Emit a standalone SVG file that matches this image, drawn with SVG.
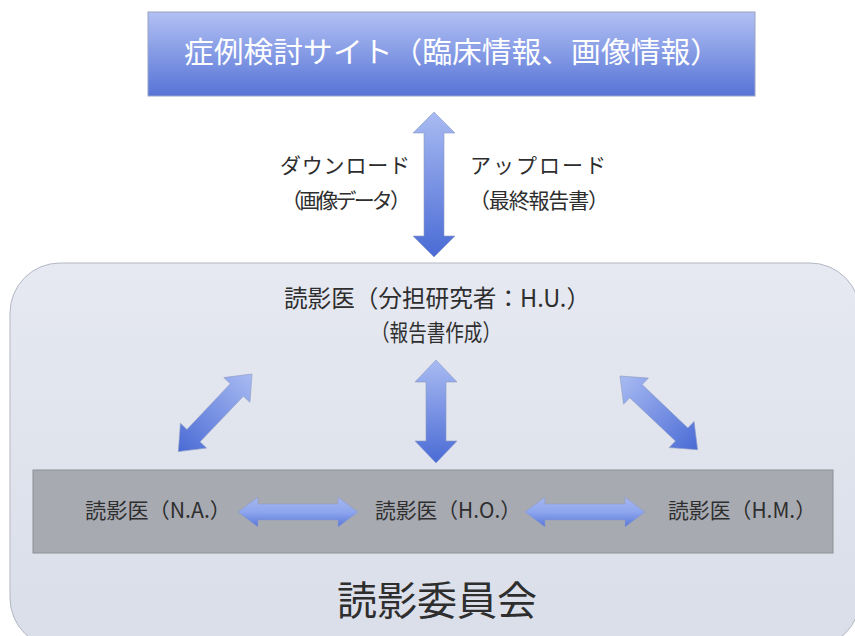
<svg xmlns="http://www.w3.org/2000/svg" width="855" height="636" viewBox="0 0 855 636">
<defs>
<linearGradient id="topg" x1="0" y1="0" x2="0" y2="1">
<stop offset="0" stop-color="#b2c0f3"/>
<stop offset="1" stop-color="#5674d6"/>
</linearGradient>
<linearGradient id="arrg" x1="0" y1="0" x2="1" y2="0">
<stop offset="0" stop-color="#a9bbf2"/>
<stop offset="1" stop-color="#4a6bd5"/>
</linearGradient>
<linearGradient id="hg" x1="0" y1="0" x2="0" y2="1">
<stop offset="0" stop-color="#a7b8f0"/>
<stop offset="0.5" stop-color="#8ea6ee"/>
<stop offset="1" stop-color="#5876d8"/>
</linearGradient>
<linearGradient id="bigg" x1="0" y1="0" x2="0" y2="1">
<stop offset="0" stop-color="#e6e9f1"/>
<stop offset="1" stop-color="#dadee9"/>
</linearGradient>
</defs>
<style>
.t{font-family:"Noto Sans CJK JP","Noto Sans",sans-serif;fill:#2e2e2e;}
.arr{stroke:#8d9bc4;stroke-width:0.6;}
</style>
<rect width="855" height="636" fill="#ffffff"/>
<g id="site">
<rect x="148" y="12" width="607" height="84" fill="url(#topg)" stroke="#9aa4c4" stroke-width="1"/>
<text class="t" x="452" y="63" font-size="29" text-anchor="middle" style="fill:#ffffff" textLength="536" lengthAdjust="spacingAndGlyphs">症例検討サイト（臨床情報、画像情報）</text>
</g>
<g id="committee">
<rect x="10" y="263" width="850" height="385" rx="50" ry="50" fill="url(#bigg)" stroke="#b3b7c3" stroke-width="1"/>
<text class="t" x="437" y="615" font-size="40" text-anchor="middle" textLength="200" lengthAdjust="spacingAndGlyphs">読影委員会</text>
</g>
<g id="hu">
<text class="t" x="437" y="307" font-size="24" text-anchor="middle" textLength="306" lengthAdjust="spacingAndGlyphs">読影医（分担研究者：H.U.）</text>
<text class="t" x="436" y="341" font-size="23" text-anchor="middle" textLength="130" lengthAdjust="spacingAndGlyphs">（報告書作成）</text>
</g>
<g id="band">
<rect x="33" y="470" width="800" height="83" fill="#a8aab2" stroke="#8e9098" stroke-width="1"/>
</g>
<g id="na">
<text class="t" x="85" y="518" font-size="21" textLength="146" lengthAdjust="spacingAndGlyphs">読影医（N.A.）</text>
</g>
<g id="ho">
<text class="t" x="375" y="518" font-size="21" textLength="146" lengthAdjust="spacingAndGlyphs">読影医（H.O.）</text>
</g>
<g id="hm">
<text class="t" x="668" y="518" font-size="21" textLength="148" lengthAdjust="spacingAndGlyphs">読影医（H.M.）</text>
</g>
<g id="labels">
<text class="t" x="280" y="173" font-size="21" textLength="130" lengthAdjust="spacing">ダウンロード</text>
<text class="t" x="281" y="208" font-size="21" textLength="130" lengthAdjust="spacing">（画像データ）</text>
<text class="t" x="470" y="173" font-size="21" textLength="136" lengthAdjust="spacing">アップロード</text>
<text class="t" x="469" y="208" font-size="21" textLength="140" lengthAdjust="spacing">（最終報告書）</text>
</g>
<g id="connectors">
<path class="arr" fill="url(#arrg)" transform="translate(434,112) rotate(90)" d="M0,0 L21,-21 L21,-10 L124,-10 L124,-21 L145,0 L124,21 L124,10 L21,10 L21,21 Z"/>
<path class="arr" fill="url(#arrg)" transform="translate(436,360) rotate(90)" d="M0,0 L22,-21 L22,-10 L81,-10 L81,-21 L103,0 L81,21 L81,10 L22,10 L22,21 Z"/>
<path class="arr" fill="url(#arrg)" transform="translate(252,374) rotate(133.5)" d="M0,0 L22,-18 L22,-9 L85,-9 L85,-18 L107,0 L85,18 L85,9 L22,9 L22,18 Z"/>
<path class="arr" fill="url(#arrg)" transform="translate(620,376) rotate(43.5)" d="M0,0 L22,-18 L22,-9 L85,-9 L85,-18 L107,0 L85,18 L85,9 L22,9 L22,18 Z"/>
<path class="arr" fill="url(#hg)" transform="translate(238,512)" d="M0,0 L20,-15 L20,-8 L100,-8 L100,-15 L120,0 L100,15 L100,8 L20,8 L20,15 Z"/>
<path class="arr" fill="url(#hg)" transform="translate(525,512)" d="M0,0 L20,-15 L20,-8 L100,-8 L100,-15 L120,0 L100,15 L100,8 L20,8 L20,15 Z"/>
</g>
</svg>
